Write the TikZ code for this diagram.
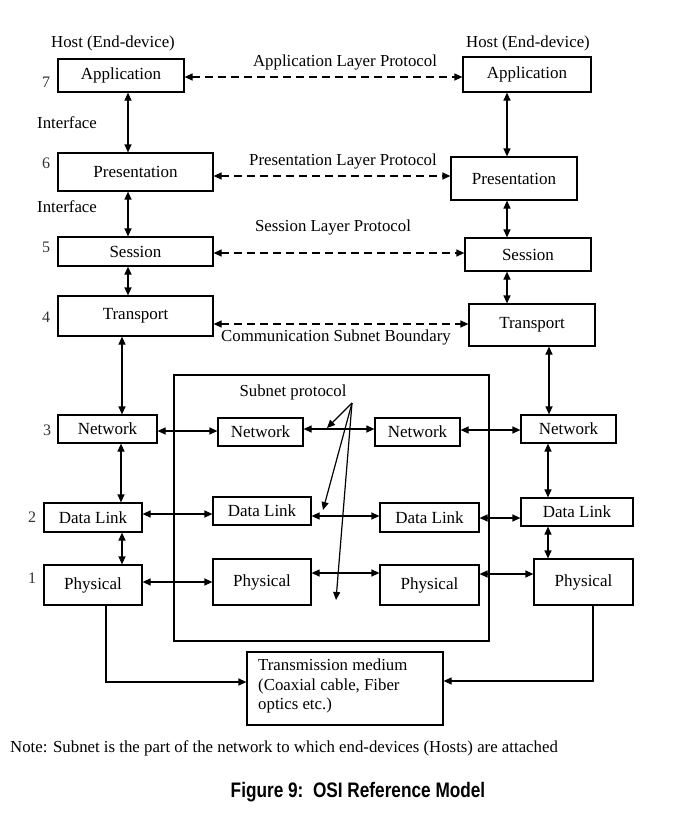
\documentclass[tikz,border=0pt]{standalone}
\usepackage{fontspec}
\setmainfont{Liberation Serif}
\newfontfamily\capfont[FakeStretch=0.82]{Liberation Sans}
\usetikzlibrary{arrows.meta,calc}
\tikzset{
  txt/.style={font=\fontsize{16.8}{19.5}\selectfont, inner sep=0pt},
  numtxt/.style={font=\fontsize{16}{18}\selectfont, inner sep=0pt, text=black!80},
  layerbox/.style={draw, line width=1.2pt, inner sep=0pt, font=\fontsize{17}{19.5}\selectfont},
  link/.style={line width=1.2pt, {Triangle[length=8pt,width=7pt]}-{Triangle[length=8pt,width=7pt]}},
  dlink/.style={link, dash pattern=on 8pt off 5pt},
  oneway/.style={line width=1.2pt, -{Triangle[length=8pt,width=7pt]}},
}
\newcommand{\lbox}[6]{% name, x1,y1,x2,y2, text
  \node[layerbox, minimum width={#4-#2}, minimum height={#5-#3}] (#1) at ({(#2+#4)/2},{(#3+#5)/2}) {#6};}
\begin{document}
\begin{tikzpicture}[x=1pt,y=-1pt]
\useasboundingbox (0,0) rectangle (677,817);
\fill[white] (0,0) rectangle (677,817);

% subnet box
\lbox{subnet}{174}{375}{489}{641}{}

% left host
\lbox{lapp}{58}{59}{184}{92}{Application}
\lbox{lpres}{58}{153}{213}{191}{Presentation}
\lbox{lses}{58}{237}{213}{266}{Session}
\lbox{ltra}{58}{296}{213}{336}{Transport}
\lbox{lnet}{58}{415}{157}{443}{Network}
\lbox{ldl}{44}{503}{142}{532}{Data Link}
\lbox{lphy}{44}{565}{142}{605}{Physical}

% right host
\lbox{rapp}{463}{57}{591}{92}{Application}
\lbox{rpres}{451}{157}{577}{200}{Presentation}
\lbox{rses}{465}{238}{591}{271}{Session}
\lbox{rtra}{469}{304}{595}{346}{Transport}
\lbox{rnet}{521}{415}{616}{443}{Network}
\lbox{rdl}{521}{498}{633}{526}{Data Link}
\lbox{rphy}{534}{559}{633}{605}{Physical}

% subnet nodes
\lbox{anet}{218}{418}{303}{446}{Network}
\lbox{adl}{213}{497}{311}{525}{Data Link}
\lbox{aphy}{213}{559}{311}{605}{Physical}
\lbox{bnet}{375}{418}{460}{446}{Network}
\lbox{bdl}{380}{503}{479}{532}{Data Link}
\lbox{bphy}{380}{565}{479}{605}{Physical}

% transmission medium
\lbox{tm}{247}{652}{443}{725}{}
\node[txt, anchor=north west, align=left] (tmtext) at (258,659)
  {Transmission medium\\(Coaxial cable, Fiber\\optics etc.)};

% labels
\node[txt] (lhost) at (113,43) {Host (End-device)};
\node[txt] (rhost) at (528,43) {Host (End-device)};
\node[numtxt] (n7) at (46,82) {7};
\node[numtxt] (n6) at (46,163) {6};
\node[numtxt] (n5) at (46,247) {5};
\node[numtxt] (n4) at (46,317) {4};
\node[numtxt] (n3) at (47,430) {3};
\node[numtxt] (n2) at (32,517) {2};
\node[numtxt] (n1) at (32,578) {1};
\node[txt, anchor=west] (if1) at (37,123) {Interface};
\node[txt, anchor=west] (if2) at (37,207) {Interface};
\node[txt] (alp) at (345,62) {Application Layer Protocol};
\node[txt] (plp) at (343,161) {Presentation Layer Protocol};
\node[txt] (slp) at (333,227) {Session Layer Protocol};
\node[txt] (csb) at (336,337) {Communication Subnet Boundary};
\node[txt] (sp) at (293,392) {Subnet protocol};
\node[txt, anchor=west, font=\fontsize{16.8}{19}\selectfont] (note) at (10,748)
  {Note: Subnet is the part of the network to which end-devices (Hosts) are attached};
\node[inner sep=0pt, font=\capfont\bfseries\fontsize{21}{24}\selectfont] (cap) at (358,792)
  {Figure 9:\ \ OSI Reference Model};

% peer protocols (dashed)
\draw[dlink] (lapp.east |- 0,77) -- (rapp.west |- 0,77);
\draw[dlink] (lpres.east |- 0,176) -- (rpres.west |- 0,176);
\draw[dlink] (lses.east |- 0,253) -- (rses.west |- 0,253);
\draw[dlink] (ltra.east |- 0,324) -- (rtra.west |- 0,324);

% left vertical
\draw[link] (lapp.south -| 128,0) -- (lpres.north -| 128,0);
\draw[link] (lpres.south -| 128,0) -- (lses.north -| 128,0);
\draw[link] (lses.south -| 128,0) -- (ltra.north -| 128,0);
\draw[link] (ltra.south -| 122,0) -- (lnet.north -| 122,0);
\draw[link] (lnet.south -| 121,0) -- (ldl.north -| 121,0);
\draw[link] (ldl.south -| 122,0) -- (lphy.north -| 122,0);

% right vertical
\draw[link] (rapp.south -| 507,0) -- (rpres.north -| 507,0);
\draw[link] (rpres.south -| 507,0) -- (rses.north -| 507,0);
\draw[link] (rses.south -| 507,0) -- (rtra.north -| 507,0);
\draw[link] (rtra.south -| 549,0) -- (rnet.north -| 549,0);
\draw[link] (rnet.south -| 548,0) -- (rdl.north -| 548,0);
\draw[link] (rdl.south -| 548,0) -- (rphy.north -| 548,0);

% horizontal links
\draw[link] (lnet.east |- 0,431) -- (anet.west |- 0,431);
\draw[link] (ldl.east |- 0,514) -- (adl.west |- 0,514);
\draw[link] (lphy.east |- 0,582) -- (aphy.west |- 0,582);
\draw[link] (anet.east |- 0,429) -- (bnet.west |- 0,429);
\draw[link] (adl.east |- 0,516) -- (bdl.west |- 0,516);
\draw[link] (aphy.east |- 0,573) -- (bphy.west |- 0,573);
\draw[link] (bnet.east |- 0,430) -- (rnet.west |- 0,430);
\draw[link] (bdl.east |- 0,518) -- (rdl.west |- 0,518);
\draw[link] (bphy.east |- 0,574) -- (rphy.west |- 0,574);

% subnet protocol fan
\coordinate (fan) at (352,403);
\coordinate (f1) at (327,428);
\coordinate (f2) at (323,510);
\coordinate (f3) at (336,600);
\draw[oneway] (fan) -- (f1);
\draw[oneway] (fan) -- (f2);
\draw[oneway] (fan) -- (f3);

% to transmission medium
\draw[oneway] (lphy.south -| 106,0) |- (tm.west |- 0,682);
\draw[oneway] (rphy.south -| 593,0) |- (tm.east |- 0,681);
\end{tikzpicture}
\end{document}
